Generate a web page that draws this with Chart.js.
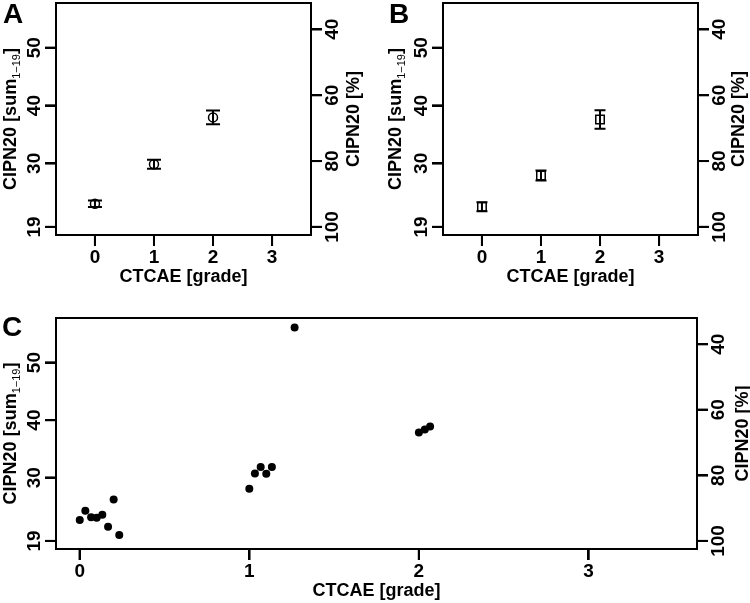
<!DOCTYPE html>
<html>
<head>
<meta charset="utf-8">
<script src="https://cdn.jsdelivr.net/npm/chart.js@4/dist/chart.umd.min.js"></script>
<style>
  body { margin: 0; background: #fff; }
  #wrap { position: relative; width: 750px; height: 603px; background: #fff; }
  #wrap canvas { position: absolute; }
  .tag { position: absolute; font: bold 28px "Liberation Sans", Arial, sans-serif; line-height: 1; color: #000; }
</style>
</head>
<body>
<div id="wrap">
  <canvas id="chartA" width="375" height="300" style="left:0;top:0"></canvas>
  <canvas id="chartB" width="375" height="300" style="left:375px;top:0"></canvas>
  <canvas id="chartC" width="750" height="303" style="left:0;top:300px"></canvas>
  <div class="tag" style="left:3px;top:0">A</div>
  <div class="tag" style="left:389px;top:0">B</div>
  <div class="tag" style="left:2px;top:313px">C</div>
</div>
<script>
// --- DATA ---

const GRADE_TICKS = [0, 1, 2, 3];
const SUM_TICKS = [19, 30, 40, 50];
const PCT_TICKS = [40, 60, 80, 100];

// CIPN20 sum score runs 19..76, the % axis is the same scale flipped
const SUM_MIN = 19;
const SUM_MAX = 76;
const Y_LOW = 17.6;
const Y_HIGH = 57.75;

// panel A: circles with error bars
const gradesA = [0, 1, 2];
const meanA = [23.0, 29.85, 37.95];
const errA = [0.55, 0.78, 1.19];

// panel B: squares with error bars
const gradesB = [0, 1, 2];
const midB = [22.5, 27.9, 37.6];
const errB = [0.78, 0.87, 1.6];

// panel C: single patients (grade + small jitter)
const patientGrade = [0, 0.033, 0.067, 0.1, 0.133, 0.167, 0.2, 0.233,
                      1, 1.033, 1.067, 1.1, 1.133, 1.267,
                      2, 2.035, 2.066];
const patientSum = [22.64, 24.25, 23.10, 23.04, 23.55, 21.48, 26.22, 20.04,
                    28.06, 30.72, 31.87, 30.66, 31.87, 56.11,
                    37.83, 38.35, 38.87];

const FONT = '"Liberation Sans", Arial, sans-serif';
const TICK_LEN = 11;
const toPct = s => (SUM_MAX - s) / (SUM_MAX - SUM_MIN) * 100;

// --- PLUGINS ---

// tick marks outside the box, filled rects, plain transform
function drawTickMarks(chart) {
    const { ctx, chartArea: ca } = chart;
    ctx.save();
    ctx.setTransform(1, 0, 0, 1, 0, 0);
    ctx.globalAlpha = 1;
    ctx.globalCompositeOperation = 'source-over';
    ctx.fillStyle = '#000';
    ['x', 'y', 'y2'].forEach(id => {
        const s = chart.scales[id];
        if (!s) return;
        const vals = id === 'x' ? GRADE_TICKS : (id === 'y' ? SUM_TICKS : PCT_TICKS);
        vals.forEach(v => {
            const p = s.getPixelForValue(v);
            if (id === 'x') ctx.fillRect(p - 1, ca.bottom, 2, TICK_LEN);
            else if (id === 'y') ctx.fillRect(ca.left - TICK_LEN, p - 1, TICK_LEN, 2);
            else ctx.fillRect(ca.right, p - 1, TICK_LEN, 2);
        });
    });
    ctx.restore();
}

// full box round the plot
const frameBox = {
    id: 'frameBox',
    afterDraw(chart) {
        const { ctx, chartArea: ca } = chart;
        ctx.save();
        ctx.strokeStyle = '#000';
        ctx.lineWidth = 2;
        ctx.strokeRect(ca.left, ca.top, ca.right - ca.left, ca.bottom - ca.top);
        ctx.restore();
        drawTickMarks(chart);
    }
};

const errBars = {
    id: 'errBars',
    afterDatasetsDraw(chart, args, opts) {
        if (!opts.xs) return;
        const { ctx } = chart;
        const xs = chart.scales.x, ys = chart.scales.y;
        ctx.save();
        ctx.strokeStyle = '#000';
        ctx.lineWidth = 2;
        ctx.beginPath();
        opts.xs.forEach((g, i) => {
            const px = xs.getPixelForValue(g);
            const top = ys.getPixelForValue(opts.ys[i] + opts.es[i]);
            const bot = ys.getPixelForValue(opts.ys[i] - opts.es[i]);
            ctx.moveTo(px, top); ctx.lineTo(px, bot);
            ctx.moveTo(px - opts.cap, top); ctx.lineTo(px + opts.cap, top);
            ctx.moveTo(px - opts.cap, bot); ctx.lineTo(px + opts.cap, bot);
        });
        ctx.stroke();
        ctx.restore();
    }
};

// rotated text pieces, reading bottom to top
function drawRotated(ctx, cx, cy, parts) {
    ctx.save();
    ctx.translate(cx, cy);
    ctx.rotate(-Math.PI / 2);
    ctx.textBaseline = 'alphabetic';
    ctx.textAlign = 'left';
    let total = 0;
    parts.forEach(p => { ctx.font = p.font; p.w = ctx.measureText(p.text).width; total += p.w; });
    let x = -total / 2;
    parts.forEach(p => {
        ctx.font = p.font;
        ctx.fillText(p.text, x, 6.4 + (p.shift || 0));
        x += p.w;
    });
    ctx.restore();
}

const sideTitles = {
    id: 'sideTitles',
    afterDraw(chart, args, opts) {
        const { ctx, chartArea: ca } = chart;
        const cy = (ca.top + ca.bottom) / 2;
        const big = 'bold 18px ' + FONT;
        ctx.save();
        ctx.fillStyle = '#000';
        drawRotated(ctx, ca.left - opts.left, cy, [
            { text: 'CIPN20 [sum', font: big },
            { text: '1\u221219', font: '11px ' + FONT, shift: 4 },
            { text: ']', font: big }
        ]);
        drawRotated(ctx, ca.right + opts.right, cy, [
            { text: 'CIPN20 [%]', font: big }
        ]);
        ctx.restore();
        // last thing drawn on the canvas
        drawTickMarks(chart);
    }
};

// --- CHART FACTORY ---

function fixTicks(values) {
    return scale => { scale.ticks = values.map(v => ({ value: v })); };
}

function noPad(scale) {
    scale.paddingTop = 0; scale.paddingBottom = 0;
    scale.paddingLeft = 0; scale.paddingRight = 0;
}

function axisBase(pad) {
    return {
        bounds: 'data',
        grid: { drawOnChartArea: false, drawTicks: true, tickLength: TICK_LEN, color: '#000', lineWidth: 2 },
        border: { display: true, color: '#000', width: 2 },
        ticks: { color: '#000', font: { family: FONT, size: 19, weight: 'bold' }, padding: pad, autoSkip: false }
    };
}

function makePanel(id, area, xRange, datasets, bars, titleOff) {
    const canvas = document.getElementById(id);
    const W = canvas.width, H = canvas.height;

    const x = axisBase(0);
    Object.assign(x, {
        type: 'linear', position: 'bottom', min: xRange[0], max: xRange[1],
        afterBuildTicks: fixTicks(GRADE_TICKS),
        afterFit: s => { s.height = H - area.b; noPad(s); },
        title: {
            display: true, text: 'CTCAE [grade]', color: '#000',
            font: { family: FONT, size: 18, weight: 'bold' },
            padding: { top: 0, bottom: (H - area.b) - 42 - 10.8 }
        }
    });

    const y = axisBase(-0.5);
    Object.assign(y, {
        type: 'linear', position: 'left', min: Y_LOW, max: Y_HIGH,
        afterBuildTicks: fixTicks(SUM_TICKS),
        afterFit: s => { s.width = area.l; noPad(s); }
    });
    Object.assign(y.ticks, { minRotation: 90, maxRotation: 90, crossAlign: 'center' });

    const y2 = axisBase(-5.3);
    Object.assign(y2, {
        type: 'linear', position: 'right', reverse: true,
        min: toPct(Y_HIGH), max: toPct(Y_LOW),
        afterBuildTicks: fixTicks(PCT_TICKS),
        afterFit: s => { s.width = W - area.r; noPad(s); }
    });
    Object.assign(y2.ticks, { minRotation: 90, maxRotation: 90, crossAlign: 'center' });

    return new Chart(canvas, {
        type: 'scatter',
        data: { datasets },
        options: {
            responsive: false,
            animation: false,
            layout: { autoPadding: false, padding: { top: area.t, left: 0, right: 0, bottom: 0 } },
            scales: { x, y, y2 },
            plugins: {
                legend: { display: false },
                tooltip: { enabled: false },
                errBars: bars || {},
                sideTitles: titleOff
            }
        },
        plugins: [frameBox, errBars, sideTitles]
    });
}

const pts = (xs, ys) => xs.map((g, i) => ({ x: g, y: ys[i] }));

makePanel('chartA', { l: 56, r: 311, t: 3, b: 235 }, [-0.66, 3.66], [{
    data: pts(gradesA, meanA),
    pointStyle: 'circle', pointRadius: 4.5,
    borderColor: '#000', backgroundColor: 'rgba(0,0,0,0)', borderWidth: 1.5
}], { xs: gradesA, ys: meanA, es: errA, cap: 7 }, { left: 46, right: 41.5 });

makePanel('chartB', { l: 68, r: 323, t: 3, b: 235 }, [-0.66, 3.66], [{
    data: pts(gradesB, midB),
    pointStyle: 'rect', pointRadius: 6,
    borderColor: '#000', backgroundColor: 'rgba(0,0,0,0)', borderWidth: 1.5
}], { xs: gradesB, ys: midB, es: errB, cap: 5.5 }, { left: 48, right: 40 });

makePanel('chartC', { l: 56, r: 697, t: 18, b: 249 }, [-0.14, 3.64], [{
    data: pts(patientGrade, patientSum),
    pointStyle: 'circle', pointRadius: 4,
    borderColor: '#000', backgroundColor: '#000', borderWidth: 0
}], null, { left: 46, right: 44.5 });
</script>
</body>
</html>
